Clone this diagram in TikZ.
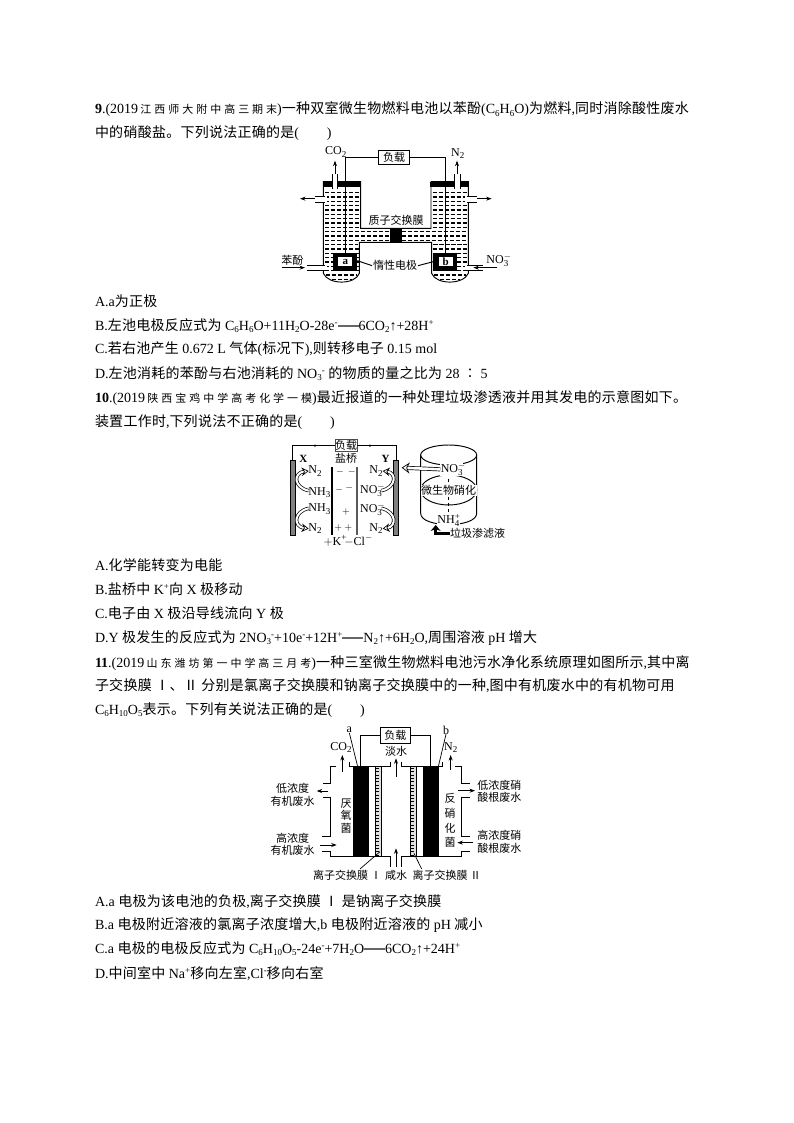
\documentclass[tikz,border=0pt]{standalone}
\usepackage{fontspec}
\setmainfont{Liberation Serif}
\newfontfamily\cjkf[LetterSpace=1.8]{Noto Sans CJK SC}
\newfontfamily\cjlab{Noto Sans CJK SC}
\newfontfamily\cjsmall[LetterSpace=27]{Noto Sans CJK SC}
\usetikzlibrary{arrows.meta}
\newcommand{\cj}[1]{{\cjkf #1}}
\newcommand{\srcj}[1]{{\fontsize{11}{11}\cjsmall #1}}
\newcommand{\dn}[1]{\raisebox{-2.5pt}{\fontsize{9}{9}\selectfont #1}}
\newcommand{\up}[1]{\raisebox{4.5pt}{\fontsize{9}{9}\selectfont #1}}
\newcommand{\ion}[2]{\rlap{\up{#2}}\dn{#1}}
\newcommand{\eqbar}{\textcolor{black!60}{\rule[3.5pt]{21pt}{1.8pt}}}
\newcommand{\tline}[4]{\node[tl] (#1) at (#2,#3) {#4};}
\newcommand{\lab}[4]{\node[lb] (#1) at (#2,#3) {#4};}
\tikzset{
 tl/.style={anchor=base west,inner sep=0,outer sep=0,font=\fontsize{14}{14}\selectfont},
 lb/.style={inner sep=0,outer sep=0,align=center,font=\fontsize{11}{12.6}\selectfont\cjlab},
 lat/.style={inner sep=0,outer sep=0,align=center,font=\fontsize{12}{12}\selectfont},
 ln/.style={line width=0.95pt,line join=miter},
 ar/.style={line width=0.9pt,-{Stealth[length=5.5pt,width=4pt]}},
 drow/.style={line width=1.1pt,dash pattern=on 4.4pt off 1.6pt},
 hol/.style={double,double distance=2pt,line width=0.7pt,-{Stealth[open,length=7pt,width=8.5pt,line width=0.7pt]}},
 zoomed/.style={x=0.33333pt,y=-0.33333pt},
}
\begin{document}
\begin{tikzpicture}[x=1pt,y=-1pt]
\useasboundingbox (0,0) rectangle (794,1123);
\fill[white] (0,0) rectangle (794,1123);
% ---------- question 9
\tline{q9a}{95}{114}{\textbf{9}.(2019\,\srcj{江西师大附中高三期末})\cj{一种双室微生物燃料电池以苯酚}(C\dn{6}H\dn{6}O)\cj{为燃料},\cj{同时消除酸性废水}}
\tline{q9b}{95}{138}{\cj{中的硝酸盐。下列说法正确的是}(\hspace{28pt})}
\begin{scope}[shift={(270,140)},zoomed]
 \draw[ln,fill=white] (160,125)--(160,400) .. controls (175,435) and (255,435) .. (268,400)--(268,307)--(485,307)--(485,400) .. controls (498,435) and (580,435) .. (595,400)--(595,125)--(483,125)--(483,265)--(272,265)--(272,125)--cycle;
 \foreach \y in {158,171,184,197,210,223,236,249,262,327,340,353,366,379,392}{
  \draw[drow] (165,\y)--(268,\y);
  \draw[drow] (488,\y)--(591,\y);
 }
 \foreach \y in {275,288,301}{
  \draw[drow] (165,\y)--(360,\y);
  \draw[drow] (395,\y)--(591,\y);
 }
 \draw[drow] (165,314)--(265,314); \draw[drow] (490,314)--(591,314);
 \draw[drow] (168,405)--(262,405); \draw[drow] (492,405)--(587,405);
 \draw[drow] (185,418)--(245,418); \draw[drow] (510,418)--(570,418);
 \fill (360,265) rectangle (395,307);
 \fill (160,125) rectangle (272,142);
 \fill (480,125) rectangle (595,142);
 \fill[white] (187,120) rectangle (203,147);
 \fill[white] (552,120) rectangle (570,147);
 \draw[ln] (187,103)--(187,147) (203,103)--(203,147) (552,103)--(552,147) (570,103)--(570,147);
 \fill[white] (150,169) rectangle (170,187); \fill[white] (585,169) rectangle (605,187);
 \fill[white] (150,376) rectangle (170,390); \fill[white] (585,376) rectangle (605,390);
 \draw[ln] (135,168)--(165,168) (135,187)--(165,187) (590,168)--(620,168) (590,187)--(620,187);
 \draw[ln] (112,375)--(165,375) (112,390)--(165,390) (590,375)--(640,375) (590,390)--(640,390);
 \draw[ar] (135,176)--(90,176);
 \draw[ar] (620,176)--(665,176);
 \draw[ar] (35,383)--(105,383);
 \draw[ar] (682,383)--(610,383);
 \draw[ar] (195,103)--(195,62);
 \draw[ar] (561,103)--(561,62);
 \fill (190,340) rectangle (262,392);
 \fill (490,340) rectangle (562,392);
 \node[lat,fill=white,minimum width=14pt,minimum height=8.5pt,font=\fontsize{11}{12}\selectfont\bfseries] (ea) at (226,365) {a};
 \node[lat,fill=white,minimum width=14pt,minimum height=8.5pt,font=\fontsize{11}{12}\selectfont\bfseries] (eb) at (527,365) {b};
 \node[lb,draw,line width=0.9pt,minimum width=31pt,minimum height=13.5pt] (load1) at (372,52) {负载};
 \draw[ln] (load1.west) -| (ea.north);
 \draw[ln] (load1.east) -| (eb.north);
 \node[lat] (co1) at (197,36) {CO\dn{2}};
 \node[lat] (n1) at (563,40) {N\dn{2}};
 \lab{mem1}{378}{242}{质子交换膜}
 \node[lb,fill=white,inner xsep=1pt] (ine) at (375,377) {惰性电极};
 \draw[ln] (ine.west)--(262,362);
 \draw[ln] (ine.east)--(490,365);
 \lab{ben}{67}{360}{苯酚}
 \node[lat] (no1) at (682,360) {NO\ion{3}{$-$}};
\end{scope}
\tline{a9}{95}{306}{A.a\cj{为正极}}
\tline{b9}{95}{330}{B.\cj{左池电极反应式为} C\dn{6}H\dn{6}O+11H\dn{2}O-28e\up{-}\eqbar 6CO\dn{2}↑+28H\up{+}}
\tline{c9}{95}{353}{C.\cj{若右池产生} 0.672 L \cj{气体}(\cj{标况下}),\cj{则转移电子} 0.15 mol}
\tline{d9}{95}{378}{D.\cj{左池消耗的苯酚与右池消耗的} NO\dn{3}\up{-} \cj{的物质的量之比为} 28 \cj{∶} 5}
% ---------- question 10
\tline{q10a}{95}{402}{\textbf{10}.(2019\,\srcj{陕西宝鸡中学高考化学一模})\cj{最近报道的一种处理垃圾渗透液并用其发电的示意图如下。}}
\tline{q10b}{95}{426}{\cj{装置工作时},\cj{下列说法不正确的是}(\hspace{28pt})}
\begin{scope}[shift={(270,430)},zoomed]
 \node[lb,draw=black!70,line width=0.9pt,minimum width=22pt,minimum height=11.5pt] (load2) at (228,47) {负载};
 \fill[black!50,draw=black,line width=0.7pt] (60,90) rectangle (76,315);
 \fill[black!50,draw=black,line width=0.7pt] (370,90) rectangle (386,315);
 \coordinate (ex) at (68,90); \coordinate (ey) at (378,90);
 \draw[ln] (load2.west) -| (ex);
 \draw[ln] (load2.east) -| (ey);
 \fill (135,47) circle (1.2pt); \fill (300,47) circle (1.2pt);
 \draw[line width=1.9pt] (185,112)--(185,315);
 \draw[line width=1.9pt,black!65] (262,112)--(262,315);
 \node[lat,font=\fontsize{11}{12}\selectfont\bfseries] (xl) at (100,88) {X};
 \node[lat,font=\fontsize{11}{12}\selectfont\bfseries] (yl) at (347,88) {Y};
 \lab{yq}{228}{85}{盐桥}
 \draw[hol] (116,182) .. controls (70,172) and (70,128) .. (116,123);
 \draw[hol] (116,235) .. controls (70,245) and (70,290) .. (116,296);
 \draw[hol] (334,182) .. controls (380,172) and (380,128) .. (338,123);
 \draw[hol] (334,235) .. controls (380,245) and (380,290) .. (338,296);
 \foreach \n/\px/\py/\t in {a/135/123/N\dn{2},b/148/188/NH\dn{3},c/148/238/NH\dn{3},d/135/295/N\dn{2},e/318/123/N\dn{2},f/318/295/N\dn{2}}{
  \node[lat] (s\n) at (\px,\py) {\t};
 }
 \node[lat] (sg) at (303,180) {NO\ion{3}{$-$}};
 \node[lat] (sh) at (303,238) {NO\ion{3}{$-$}};
 \foreach \n/\px/\py/\t in {a/210/125/$-$,b/245/125/$-$,c/208/180/$-$,d/238/173/$-$,e/228/245/$+$,f/205/295/$+$,g/235/295/$+$}{
  \node[lat,font=\fontsize{10}{12}\selectfont\bfseries] (p\n) at (\px,\py) {\t};
 }
 \node[lat] (kp) at (195,332) {$+$K\up{+}};
 \node[lat] (cl) at (265,332) {$-$Cl\up{$-$}};
 \draw[ln] (452,75)--(452,250) .. controls (452,295) and (620,295) .. (620,250)--(620,75);
 \draw[ln] (536,75) ellipse [x radius=84,y radius=30];
 \draw[ln,fill=white] (536,180) ellipse [x radius=84,y radius=45];
 \draw[line width=0.7pt,dashed] (535,128)--(535,258);
 \node[lb,fill=white,inner sep=0.5pt] (wsw) at (536,182) {微生物硝化};
 \node[lat,fill=white,inner sep=0.5pt] (no3) at (545,118) {NO\ion{3}{$-$}};
 \node[lat,fill=white,inner sep=0.5pt] (nh4) at (535,270) {NH\ion{4}{+}};
 \draw[hol,double distance=2.6pt,-{Stealth[open,length=8pt,width=11pt,line width=0.7pt]}] (no3.west)--(395,113);
 \coordinate (ba) at (497,285);
 \node[lb,anchor=west] (lj) at (540,310) {垃圾渗滤液};
 \draw[line width=3pt,-{Stealth[length=6pt,width=10pt]}] (lj.west) -| (ba);
\end{scope}
\tline{a10}{95}{570}{A.\cj{化学能转变为电能}}
\tline{b10}{95}{594}{B.\cj{盐桥中} K\up{+}\cj{向} X \cj{极移动}}
\tline{c10}{95}{618}{C.\cj{电子由} X \cj{极沿导线流向} Y \cj{极}}
\tline{d10}{95}{642}{D.Y \cj{极发生的反应式为} 2NO\dn{3}\up{-}+10e\up{-}+12H\up{+}\eqbar N\dn{2}↑+6H\dn{2}O,\cj{周围溶液} pH \cj{增大}}
% ---------- question 11
\tline{q11a}{95}{667}{\textbf{11}.(2019\,\srcj{山东潍坊第一中学高三月考})\cj{一种三室微生物燃料电池污水净化系统原理如图所示},\cj{其中离}}
\tline{q11b}{95}{690}{\cj{子交换膜} \cj{Ⅰ、Ⅱ} \cj{分别是氯离子交换膜和钠离子交换膜中的一种},\cj{图中有机废水中的有机物可用}}
\tline{q11c}{95}{714}{C\dn{6}H\dn{10}O\dn{5}\cj{表示。下列有关说法正确的是}(\hspace{28pt})}
\begin{scope}[shift={(260,720)},zoomed]
 \node[lb,draw,line width=0.9pt,minimum width=30.5pt,minimum height=16pt] (load3) at (406,46) {负载};
 \coordinate (wa) at (302,140); \coordinate (wb) at (512,140);
 \draw[ln] (load3.west) -| (wa);
 \draw[ln] (load3.east) -| (wb);
 \draw[ln] (268,125)--(268,140)--(390,140)--(390,125);
 \draw[ln] (425,125)--(425,140)--(548,140)--(548,125);
 \draw[ln] (228,140)--(210,140)--(210,190)--(190,190);
 \draw[ln] (190,232)--(210,232)--(210,350)--(185,350);
 \draw[ln] (185,395)--(210,395)--(210,410)--(390,410)--(390,440);
 \draw[ln] (425,440)--(425,410)--(605,410)--(605,395)--(630,395);
 \draw[ln] (630,350)--(605,350)--(605,232)--(630,232);
 \draw[ln] (630,190)--(605,190)--(605,140)--(585,140);
 \fill (280,140) rectangle (327,410);
 \fill (490,140) rectangle (537,410);
 \draw[line width=0.7pt,fill=black!12] (347,140) rectangle (365,410);
 \draw[line width=0.7pt,fill=black!12] (452,140) rectangle (470,410);
 \foreach \y in {145,155,...,405}{
  \draw[line width=0.9pt] (347,\y)--(358,\y);
  \draw[line width=0.9pt] (452,\y)--(463,\y);
 }
 \draw[ar] (247,155)--(247,105);
 \draw[ar] (572,150)--(572,105);
 \draw[ar] (408,170)--(408,115);
 \draw[ar] (408,440)--(408,385);
 \draw[ar] (205,213)--(170,213);
 \draw[ar] (180,375)--(230,375);
 \draw[ar] (595,212)--(645,212);
 \draw[ar] (640,368)--(592,368);
 \node[lat] (la) at (268,30) {a};
 \node[lat] (lb3) at (558,30) {b};
 \coordinate (ta) at (293,140); \coordinate (tb) at (535,140);
 \draw[line width=0.7pt] (la.south)--(ta);
 \draw[line width=0.7pt] (lb3.south)--(tb);
 \node[lat] (co3) at (243,82) {CO\dn{2}};
 \node[lat] (n3) at (572,82) {N\dn{2}};
 \lab{dan}{408}{95}{淡水}
 \lab{l1}{98}{224}{低浓度\\有机废水}
 \lab{l2}{98}{373}{高浓度\\有机废水}
 \lab{r1}{718}{214}{低浓度硝\\酸根废水}
 \lab{r2}{718}{366}{高浓度硝\\酸根废水}
 \lab{yy}{258}{288}{厌\\氧\\菌}
 \node[lb,font=\fontsize{11}{14.7}\selectfont\cjlab] (fx) at (570,302) {反\\硝\\化\\菌};
 \node[lb,anchor=east] (m1) at (365,465) {离子交换膜 Ⅰ};
 \lab{xs}{408}{465}{咸水}
 \node[lb,anchor=west] (m2) at (458,465) {离子交换膜 Ⅱ};
 \coordinate (t1) at (360,395); \coordinate (t2) at (462,400);
 \draw[line width=0.7pt] (300,447)--(t1);
 \draw[line width=0.7pt] (485,447)--(t2);
\end{scope}
\tline{a11}{95}{906}{A.a \cj{电极为该电池的负极},\cj{离子交换膜} \cj{Ⅰ} \cj{是钠离子交换膜}}
\tline{b11}{95}{929}{B.a \cj{电极附近溶液的氯离子浓度增大},b \cj{电极附近溶液的} pH \cj{减小}}
\tline{c11}{95}{953}{C.a \cj{电极的电极反应式为} C\dn{6}H\dn{10}O\dn{5}-24e\up{-}+7H\dn{2}O\eqbar 6CO\dn{2}↑+24H\up{+}}
\tline{d11}{95}{978}{D.\cj{中间室中} Na\up{+}\cj{移向左室},Cl\up{-}\cj{移向右室}}
\end{tikzpicture}
\end{document}
